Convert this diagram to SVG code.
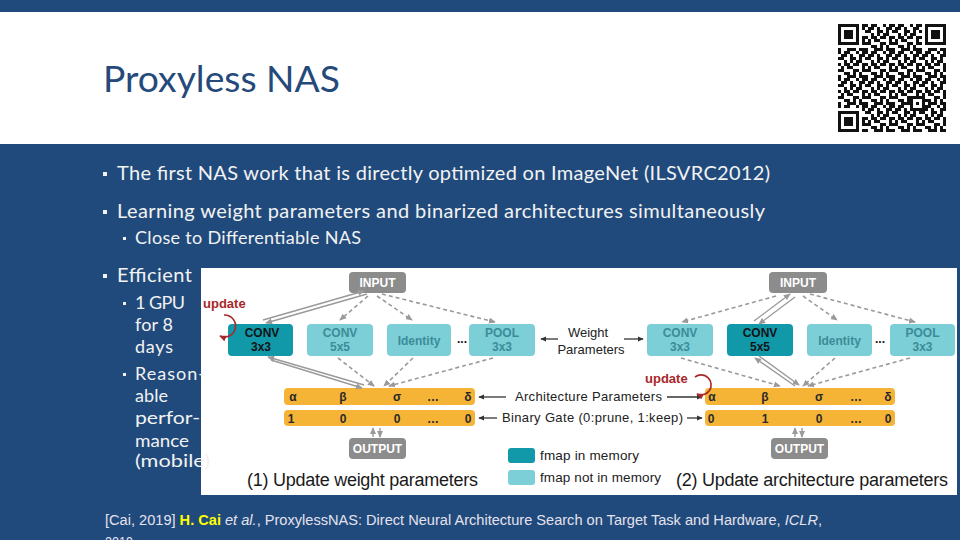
<svg xmlns="http://www.w3.org/2000/svg" width="960" height="540" viewBox="0 0 960 540">
<defs>
<style>
.body{font-family:Lato,"Open Sans","DejaVu Sans",sans-serif;fill:#f2f2f2}
.d{font-family:"Liberation Sans",Arial,sans-serif}
.bl{font-family:"Liberation Sans",Arial,sans-serif;font-weight:bold;font-size:12px;text-anchor:middle}
.gbox{fill:#8c8c8c}
.dark{fill:#1199aa}
.light{fill:#7ccfd7}
.tdark{fill:#141414}
.tlight{fill:#3b8c97}
.bar{fill:#f6b436}
.bt{font-family:"Liberation Sans",Arial,sans-serif;font-weight:bold;font-size:12px;fill:#2a2a2a;text-anchor:middle}
.dash{stroke:#9a9a9a;stroke-width:1.6;stroke-dasharray:4 3;fill:none;marker-end:url(#ga)}
.dbl{stroke:#9a9a9a;stroke-width:1.4;fill:none;marker-end:url(#ga)}
.blk{stroke:#333;stroke-width:1.3;fill:none;marker-end:url(#ka)}
.upd{stroke:#a8282a;stroke-width:1.6;fill:none;marker-end:url(#ra)}
.foot{font-family:"Liberation Sans",Arial,sans-serif;font-size:14px;fill:#e4e2ee}
</style>
<marker id="ga" viewBox="0 0 8 8" refX="7" refY="4" markerWidth="7" markerHeight="7" markerUnits="userSpaceOnUse" orient="auto"><path d="M0,0.5 L8,4 L0,7.5 z" fill="#9a9a9a"/></marker>
<marker id="ka" viewBox="0 0 8 8" refX="7" refY="4" markerWidth="6" markerHeight="6" markerUnits="userSpaceOnUse" orient="auto"><path d="M0,0.5 L8,4 L0,7.5 z" fill="#333"/></marker>
<marker id="ra" viewBox="0 0 8 8" refX="7" refY="4" markerWidth="7" markerHeight="7" markerUnits="userSpaceOnUse" orient="auto"><path d="M0,0.5 L8,4 L0,7.5 z" fill="#a8282a"/></marker>
<pattern id="qr" patternUnits="userSpaceOnUse" x="838" y="24" width="27" height="27">
<path fill="#111" d="M0 0h3v3h-3z M6 0h6v3h-6z M18 0h3v3h-3z M24 0h3v3h-3z M3 3h6v3h-6z M12 3h3v3h-3z M21 3h6v3h-6z M0 6h6v3h-6z M12 6h6v3h-6z M21 6h3v3h-3z M6 9h3v3h-3z M12 9h3v3h-3z M18 9h6v3h-6z M0 12h3v3h-3z M6 12h6v3h-6z M15 12h6v3h-6z M24 12h3v3h-3z M3 15h3v3h-3z M9 15h6v3h-6z M24 15h3v3h-3z M0 18h6v3h-6z M15 18h6v3h-6z M24 18h3v3h-3z M6 21h6v3h-6z M15 21h3v3h-3z M21 21h3v3h-3z M0 24h3v3h-3z M9 24h9v3h-9z M21 24h6v3h-6z"/>
</pattern>
</defs>

<!-- backgrounds -->
<rect x="0" y="0" width="960" height="540" fill="#214a7c"/>
<rect x="0" y="12" width="960" height="132" fill="#ffffff"/>

<!-- title -->
<text x="103" y="92" font-family="Lato,'Open Sans',sans-serif" font-size="36" fill="#24497a" textLength="237" lengthAdjust="spacingAndGlyphs">Proxyless NAS</text>

<!-- QR code -->
<g id="qr-code">
<rect x="838" y="24" width="108" height="108" fill="url(#qr)"/>
<rect x="838" y="24" width="24" height="24" fill="#fff"/>
<rect x="839.5" y="25.5" width="18" height="18" fill="none" stroke="#111" stroke-width="3"/>
<rect x="844" y="30" width="9" height="9" fill="#111"/>
<rect x="922" y="24" width="24" height="24" fill="#fff"/>
<rect x="926.5" y="25.5" width="18" height="18" fill="none" stroke="#111" stroke-width="3"/>
<rect x="931" y="30" width="9" height="9" fill="#111"/>
<rect x="838" y="108" width="24" height="24" fill="#fff"/>
<rect x="839.5" y="112.5" width="18" height="18" fill="none" stroke="#111" stroke-width="3"/>
<rect x="844" y="117" width="9" height="9" fill="#111"/>
<rect x="910" y="96" width="15" height="15" fill="#fff"/>
<rect x="911.5" y="97.5" width="12" height="12" fill="none" stroke="#111" stroke-width="3"/>
<rect x="916" y="102" width="3" height="3" fill="#111"/>
</g>

<!-- diagram panel -->
<rect x="201" y="268" width="756" height="227" fill="#ffffff"/>

<!-- body bullets -->
<g id="bullets">
<rect x="103" y="172" width="4" height="4" fill="#f2f2f2"/>
<text class="body" x="117" y="180" font-size="20" textLength="653">The first NAS work that is directly optimized on ImageNet (ILSVRC2012)</text>
<rect x="103" y="210" width="4" height="4" fill="#f2f2f2"/>
<text class="body" x="117" y="218" font-size="20" textLength="648">Learning weight parameters and binarized architectures simultaneously</text>
<rect x="123" y="237" width="3" height="3" fill="#f2f2f2"/>
<text class="body" x="135" y="244" font-size="18" textLength="226">Close to Differentiable NAS</text>
<rect x="103" y="274" width="4" height="4" fill="#f2f2f2"/>
<text class="body" x="117" y="282" font-size="20" textLength="75">Efficient</text>
<rect x="123" y="302" width="3" height="3" fill="#f2f2f2"/>
<text class="body" x="135" y="309" font-size="18" textLength="50">1 GPU</text>
<text class="body" x="135" y="331" font-size="18" textLength="38">for 8</text>
<text class="body" x="135" y="353" font-size="18" textLength="38">days</text>
<rect x="123" y="373" width="3" height="3" fill="#f2f2f2"/>
<text class="body" x="135" y="380" font-size="18" textLength="70">Reason-</text>
<text class="body" x="135" y="402" font-size="18" textLength="33">able</text>
<text class="body" x="135" y="424" font-size="18" textLength="65" lengthAdjust="spacingAndGlyphs">perfor-</text>
<text class="body" x="135" y="447" font-size="18" textLength="54" lengthAdjust="spacingAndGlyphs">mance</text>
<text class="body" x="135" y="467" font-size="18" textLength="75" lengthAdjust="spacingAndGlyphs">(mobile)</text>
</g>

<!-- left panel nodes -->
<g id="L-input"><rect class="gbox" x="349" y="272" width="57" height="21" rx="4"/><text class="bl" x="377.5" y="287" fill="#fff" font-size="11.5">INPUT</text></g>
<g id="L-conv3"><rect class="dark" x="228" y="324" width="65" height="32" rx="4"/><text class="bl tdark" x="262" y="337">CONV</text><text class="bl tdark" x="261" y="351">3x3</text></g>
<g id="L-conv5"><rect class="light" x="307" y="324" width="66" height="32" rx="4"/><text class="bl tlight" x="340" y="337">CONV</text><text class="bl tlight" x="340" y="351">5x5</text></g>
<g id="L-identity"><rect class="light" x="387" y="324" width="64" height="32" rx="4"/><text class="bl tlight" x="419" y="345">Identity</text></g>
<text class="bl tdark" x="462" y="343">...</text>
<g id="L-pool"><rect class="light" x="469" y="324" width="66" height="32" rx="4"/><text class="bl tlight" x="502" y="337">POOL</text><text class="bl tlight" x="502" y="351">3x3</text></g>
<g id="L-arch"><rect class="bar" x="284" y="388" width="191" height="17" rx="4"/>
<text class="bt" x="293" y="401">α</text><text class="bt" x="343" y="401">β</text><text class="bt" x="397" y="401">σ</text><text class="bt" x="433" y="401">…</text><text class="bt" x="468" y="401">δ</text></g>
<g id="L-gate"><rect class="bar" x="284" y="410" width="191" height="16" rx="4"/>
<text class="bt" x="291" y="423">1</text><text class="bt" x="343" y="423">0</text><text class="bt" x="397" y="423">0</text><text class="bt" x="433" y="423">…</text><text class="bt" x="468" y="423">0</text></g>
<g id="L-output"><rect class="gbox" x="349" y="438" width="57" height="21" rx="4"/><text class="bl" x="377.5" y="453" fill="#fff" font-size="11.5">OUTPUT</text></g>
<g id="L-update"><text class="d" x="203" y="308" font-size="13" font-weight="bold" fill="#a8282a">update</text></g>
<g id="L-caption"><text class="d" x="247" y="486" font-size="18" fill="#1a1a1a" textLength="231">(1) Update weight parameters</text></g>

<!-- middle labels -->
<g id="weight-params"><text class="d" x="588" y="337" font-size="13" fill="#222" text-anchor="middle">Weight</text><text class="d" x="591" y="354" font-size="13" fill="#222" text-anchor="middle">Parameters</text></g>
<g id="arch-params"><text class="d" x="515" y="401" font-size="13" fill="#222" textLength="147">Architecture Parameters</text></g>
<g id="binary-gate"><text class="d" x="502" y="422" font-size="13" fill="#222" textLength="181">Binary Gate (0:prune, 1:keep)</text></g>
<g id="legend">
<rect class="dark" x="508" y="448" width="27" height="15" rx="3"/>
<text class="d" x="540" y="460" font-size="13.5" fill="#222" textLength="99">fmap in memory</text>
<rect class="light" x="508" y="470" width="27" height="15" rx="3"/>
<text class="d" x="540" y="482" font-size="13.5" fill="#222" textLength="121">fmap not in memory</text>
</g>

<!-- right panel nodes -->
<g id="R-input"><rect class="gbox" x="769" y="272" width="58" height="21" rx="4"/><text class="bl" x="798" y="287" fill="#fff" font-size="11.5">INPUT</text></g>
<g id="R-conv3"><rect class="light" x="647" y="324" width="66" height="32" rx="4"/><text class="bl tlight" x="680" y="337">CONV</text><text class="bl tlight" x="680" y="351">3x3</text></g>
<g id="R-conv5"><rect class="dark" x="727" y="324" width="66" height="32" rx="4"/><text class="bl tdark" x="760" y="337">CONV</text><text class="bl tdark" x="760" y="351">5x5</text></g>
<g id="R-identity"><rect class="light" x="807" y="324" width="65" height="32" rx="4"/><text class="bl tlight" x="839.5" y="345">Identity</text></g>
<text class="bl tdark" x="880" y="343">...</text>
<g id="R-pool"><rect class="light" x="890" y="324" width="65" height="32" rx="4"/><text class="bl tlight" x="922.5" y="337">POOL</text><text class="bl tlight" x="922.5" y="351">3x3</text></g>
<g id="R-arch"><rect class="bar" x="705" y="388" width="190" height="17" rx="4"/>
<text class="bt" x="712" y="401">α</text><text class="bt" x="765" y="401">β</text><text class="bt" x="819" y="401">σ</text><text class="bt" x="856" y="401">…</text><text class="bt" x="888" y="401">δ</text></g>
<g id="R-gate"><rect class="bar" x="705" y="410" width="190" height="16" rx="4"/>
<text class="bt" x="711" y="423">0</text><text class="bt" x="765" y="423">1</text><text class="bt" x="819" y="423">0</text><text class="bt" x="856" y="423">…</text><text class="bt" x="888" y="423">0</text></g>
<g id="R-output"><rect class="gbox" x="771" y="438" width="57" height="21" rx="4"/><text class="bl" x="799.5" y="453" fill="#fff" font-size="11.5">OUTPUT</text></g>
<g id="R-update"><text class="d" x="645" y="383" font-size="13" font-weight="bold" fill="#a8282a">update</text></g>
<g id="R-caption"><text class="d" x="676" y="486" font-size="18" fill="#1a1a1a" textLength="272">(2) Update architecture parameters</text></g>

<!-- connectors -->
<g id="connectors">
<!-- left panel -->
<line class="dbl" x1="263" y1="320" x2="364" y2="291"/>
<line class="dbl" x1="367" y1="294" x2="266" y2="323"/>
<line class="dash" x1="368" y1="296" x2="340" y2="320"/>
<line class="dash" x1="377" y1="296" x2="412" y2="320"/>
<line class="dash" x1="382" y1="294" x2="495" y2="322"/>
<line class="dbl" x1="364" y1="385" x2="268" y2="357"/>
<line class="dbl" x1="271" y1="360" x2="362" y2="388"/>
<line class="dash" x1="338" y1="358" x2="374" y2="386"/>
<line class="dash" x1="413" y1="358" x2="384" y2="386"/>
<line class="dash" x1="493" y1="358" x2="389" y2="386"/>
<line class="dbl" x1="373" y1="437" x2="373" y2="428"/>
<line class="dbl" x1="380" y1="428" x2="380" y2="437"/>
<!-- right panel -->
<line class="dash" x1="776" y1="296" x2="682" y2="322"/>
<line class="dbl" x1="754" y1="321" x2="790" y2="294"/>
<line class="dbl" x1="795" y1="297" x2="759" y2="324"/>
<line class="dash" x1="803" y1="296" x2="837" y2="320"/>
<line class="dash" x1="810" y1="294" x2="915" y2="322"/>
<line class="dash" x1="681" y1="358" x2="780" y2="386"/>
<line class="dbl" x1="795" y1="386" x2="755" y2="358"/>
<line class="dbl" x1="759" y1="356" x2="799" y2="385"/>
<line class="dash" x1="835" y1="358" x2="803" y2="386"/>
<line class="dash" x1="910" y1="358" x2="808" y2="386"/>
<line class="dbl" x1="795" y1="437" x2="795" y2="428"/>
<line class="dbl" x1="802" y1="428" x2="802" y2="437"/>
<!-- middle label arrows -->
<line class="blk" x1="558" y1="339" x2="541" y2="339"/>
<line class="blk" x1="624" y1="339" x2="643" y2="339"/>
<line class="blk" x1="506" y1="397" x2="479" y2="397"/>
<line class="blk" x1="667" y1="397" x2="702" y2="397"/>
<line class="blk" x1="497" y1="418" x2="479" y2="418"/>
<line class="blk" x1="687" y1="418" x2="702" y2="418"/>
<!-- update arcs -->
<path class="upd" d="M224,315 A11,11 0 1,1 220,336"/>
<path class="upd" d="M695,377 A10,10 0 1,1 697,394"/>
</g>

<!-- footer reference -->
<g id="reference">
<text class="foot" x="105" y="525" textLength="717" lengthAdjust="spacingAndGlyphs">[Cai, 2019] <tspan font-weight="bold" style="fill:#ffff00">H. Cai</tspan> <tspan font-style="italic">et al.</tspan>, ProxylessNAS: Direct Neural Architecture Search on Target Task and Hardware, <tspan font-style="italic">ICLR</tspan>,</text>
<text class="foot" x="105" y="547" textLength="28" lengthAdjust="spacingAndGlyphs">2019</text>
</g>
</svg>
